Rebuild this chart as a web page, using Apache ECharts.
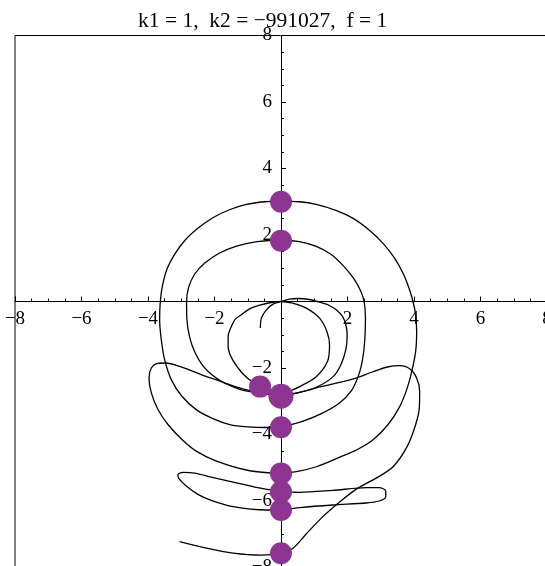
<!DOCTYPE html>
<html>
<head>
<meta charset="utf-8">
<script src="https://cdn.jsdelivr.net/npm/echarts@6/dist/echarts.min.js"></script>
<style>
html,body{margin:0;padding:0;background:#fff;}
#chart{width:545px;height:566px;}
</style>
</head>
<body>
<div id="chart"></div>
<script>
const titleText = 'k1 = 1,  k2 = \u2212991027,  f = 1';
const axisMin = -8, axisMax = 8, axisStep = 2;

const hookArc = [[-0.62,-0.8],[-0.59,-0.5],[-0.44,-0.25],[-0.24,-0.08],[0,0],[0.25,0.07],[0.5,0.09],[0.85,0.06],[1.16,-0.02],[1.45,-0.12],[1.66,-0.25],[1.85,-0.45],[1.95,-0.7],[1.99,-1.0],[1.95,-1.45],[1.8,-1.9],[1.57,-2.26],[1.06,-2.58],[0.56,-2.73],[0,-2.82]];

const innerLoop = [[0,-2.82],[-0.44,-2.63],[-0.84,-2.43],[-1.14,-2.18],[-1.44,-1.78],[-1.59,-1.36],[-1.59,-1.06],[-1.39,-0.55],[-1.24,-0.43],[-0.94,-0.22],[-0.64,-0.11],[-0.3,-0.03],[0,0],[0.35,-0.05],[0.76,-0.2],[1.16,-0.5],[1.38,-0.9],[1.46,-1.3],[1.4,-1.8],[1.06,-2.26],[0.56,-2.56],[0.26,-2.7],[0,-2.82]];

const middleCircle = [[0,-2.82],[-0.6,-2.76],[-1.24,-2.64],[-1.7,-2.45],[-2.06,-2.22],[-2.36,-1.92],[-2.58,-1.55],[-2.74,-1.1],[-2.83,-0.55],[-2.84,0],[-2.78,0.42],[-2.6,0.82],[-2.3,1.15],[-1.86,1.45],[-1.36,1.66],[-0.72,1.8],[0,1.85],[0.55,1.8],[1.06,1.66],[1.5,1.42],[1.87,1.08],[2.18,0.7],[2.39,0.33],[2.5,0],[2.54,-0.5],[2.52,-1.15],[2.46,-1.7],[2.34,-2.2],[2.12,-2.68],[1.75,-3.06],[1.2,-3.38],[0.6,-3.62],[0,-3.78]];

const outerCircle = [[0,-3.78],[-0.45,-3.79],[-1.0,-3.77],[-1.54,-3.7],[-2.05,-3.52],[-2.54,-3.26],[-2.98,-2.85],[-3.3,-2.35],[-3.5,-1.75],[-3.6,-1.15],[-3.65,-0.55],[-3.63,0],[-3.56,0.5],[-3.42,1.0],[-3.2,1.42],[-2.88,1.85],[-2.5,2.2],[-2.05,2.52],[-1.55,2.76],[-1.04,2.92],[-0.5,3.0],[0,3.02],[0.55,3.0],[1.06,2.92],[1.65,2.74],[2.17,2.5],[2.65,2.15],[3.07,1.75],[3.42,1.3],[3.67,0.85],[3.85,0.4],[3.97,0],[4.05,-0.4],[4.08,-0.9],[4.05,-1.5],[3.92,-2.16],[3.78,-2.65],[3.57,-3.16],[3.22,-3.7],[2.77,-4.16],[2.3,-4.45],[1.77,-4.68],[1.06,-4.97],[0.5,-5.11],[0,-5.17]];

const leftBigLoop = [[0,-5.17],[-0.94,-5.09],[-1.94,-4.8],[-2.55,-4.5],[-2.98,-4.15],[-3.4,-3.7],[-3.7,-3.25],[-3.9,-2.75],[-3.97,-2.3],[-3.9,-2.0],[-3.7,-1.86],[-3.45,-1.85],[-3.15,-1.92],[-2.85,-2.02],[-2.4,-2.2],[-1.94,-2.36],[-1.4,-2.55],[-0.94,-2.68],[-0.45,-2.78],[0,-2.83]];

const rightBigLoop = [[0,-2.83],[0.4,-2.77],[0.8,-2.67],[1.16,-2.57],[1.7,-2.45],[2.17,-2.33],[2.75,-2.12],[3.2,-1.97],[3.57,-1.93],[3.88,-2.03],[4.08,-2.3],[4.17,-2.7],[4.16,-3.2],[4.05,-3.7],[3.8,-4.35],[3.37,-4.97],[2.85,-5.32],[2.3,-5.62],[1.8,-6.0],[1.26,-6.47],[0.75,-7.0],[0.36,-7.42],[0,-7.57],[-0.6,-7.63],[-1.44,-7.57],[-2.24,-7.42],[-3.05,-7.22]];

const narrowLoops = [[0,-5.72],[0.56,-5.74],[1.56,-5.68],[2.57,-5.6],[2.95,-5.6],[3.15,-5.7],[3.15,-5.88],[2.95,-6.0],[2.57,-6.06],[1.56,-6.12],[0.56,-6.2],[0,-6.27],[-0.44,-6.27],[-1.44,-6.17],[-2.1,-5.98],[-2.5,-5.8],[-2.85,-5.55],[-3.07,-5.33],[-3.1,-5.2],[-2.95,-5.14],[-2.6,-5.16],[-2.1,-5.28],[-1.44,-5.43],[-0.7,-5.6],[0,-5.72]];

const markerPoints = [[0,3.0],[0,1.83],[-0.63,-2.56],[0,-5.17],[0,-5.72],[0,-6.27],[0,-7.57],[0,-3.78]];
const bigMarkerPoints = [[0,-2.85]];

const curves = [hookArc, innerLoop, middleCircle, outerCircle, leftBigLoop, rightBigLoop, narrowLoops];

const fontFam = '"Liberation Serif", "DejaVu Serif", serif';
function fmt(v){ if (v === 0) return ''; return (v < 0 ? '\u2212' : '') + Math.abs(v); }

const series = curves.map(c => ({
  type: 'line', data: c, smooth: 0.3, showSymbol: false, symbol: 'none',
  lineStyle: {color: '#000', width: 1.3}, silent: true, z: 2
}));
series.push({type:'scatter', data: markerPoints, symbolSize: 22, itemStyle:{color:'#8e3491', opacity:1}, z: 5});
series.push({type:'scatter', data: bigMarkerPoints, symbolSize: 25, itemStyle:{color:'#8e3491', opacity:1}, z: 5});

const gridH = 532;
const chart = echarts.init(document.getElementById('chart'), null, {renderer:'canvas'});
chart.setOption({
  animation: false,
  backgroundColor: '#fff',
  title: {text: titleText, left: 133, top: 5, textStyle: {fontFamily: fontFam, fontSize: 21.5, fontWeight: 'normal', color: '#000'}},
  grid: {left: 15, top: 35.5, width: 532, height: gridH, show: true, borderColor: '#000', borderWidth: 1, backgroundColor: 'transparent', outerBoundsMode: 'none', containLabel: false},
  xAxis: {
    type: 'value', min: axisMin, max: axisMax, interval: axisStep, position: 'bottom', offset: -gridH / 2,
    axisLine: {onZero: false, lineStyle: {color: '#000', width: 1}},
    axisTick: {show: true, inside: true, length: 5, lineStyle: {color: '#000'}},
    minorTick: {show: true, splitNumber: 4, length: 3, lineStyle: {color: '#000'}},
    splitLine: {show: false},
    axisLabel: {formatter: fmt, fontFamily: fontFam, fontSize: 19, color: '#000', margin: 8, showMinLabel: true, showMaxLabel: true, hideOverlap: false}
  },
  yAxis: {
    type: 'value', min: axisMin, max: axisMax, interval: axisStep, position: 'left', offset: -gridH / 2,
    axisLine: {onZero: false, lineStyle: {color: '#000', width: 1}},
    axisTick: {show: true, inside: true, length: 5, lineStyle: {color: '#000'}},
    minorTick: {show: true, splitNumber: 4, length: 3, lineStyle: {color: '#000'}},
    splitLine: {show: false},
    axisLabel: {formatter: fmt, fontFamily: fontFam, fontSize: 19, color: '#000', margin: 9, showMinLabel: true, showMaxLabel: true, hideOverlap: false}
  },
  series: series
});
</script>
</body>
</html>
